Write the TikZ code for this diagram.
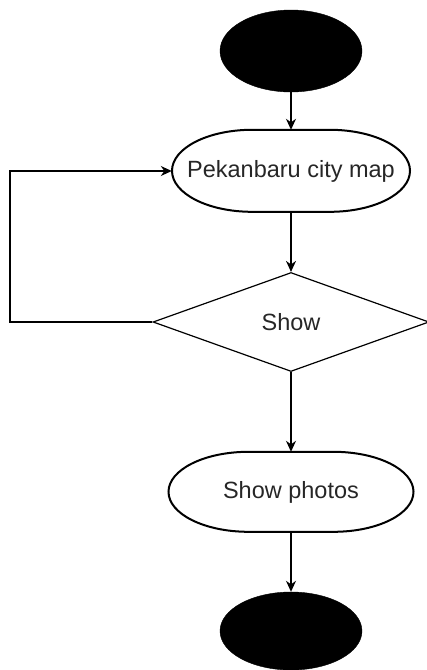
\documentclass[tikz,border=0pt]{standalone}
\usepackage{fontspec}
\setmainfont{Liberation Sans}
\usetikzlibrary{shapes.geometric,arrows.meta}
\begin{document}
\begin{tikzpicture}[x=1pt,y=1pt,
  term/.style={ellipse,fill=black,draw=black,minimum width=142pt,minimum height=82pt,inner sep=0pt},
  stadium/.style={rectangle,minimum width=238pt,minimum height=82pt,inner sep=0pt,font=\fontsize{23.5}{26}\selectfont,text=black!85},
  outline/.style={draw=black,line width=2pt},
  decision/.style={diamond,draw=black,line width=1.2pt,minimum width=276pt,minimum height=99pt,inner sep=0pt,aspect=2.78,font=\fontsize{23.5}{26}\selectfont,text=black!85},
  conn/.style={draw=black,line width=1.4pt,-{Stealth[length=11pt,width=10pt]}}]
\useasboundingbox (0,0) rectangle (427,-670);
\node[term] (start) at (291,-51) {};
\node[stadium] (map) at (291,-171) {Pekanbaru city map};
\node[decision] (dec) at (291,-322) {Show};
\node[stadium,minimum width=245pt,minimum height=80pt] (photos) at (291,-492) {Show photos};
\node[term,minimum height=78pt] (end) at (291,-631) {};
% elliptical-ended outlines
\draw[outline] (map.north) ++(-39,0) -- ++(78,0)
  arc[start angle=90,end angle=-90,x radius=80,y radius=41] -- ++(-78,0)
  arc[start angle=270,end angle=90,x radius=80,y radius=41] -- cycle;
\draw[outline] (photos.north) ++(-42.5,0) -- ++(85,0)
  arc[start angle=90,end angle=-90,x radius=80,y radius=40] -- ++(-85,0)
  arc[start angle=270,end angle=90,x radius=80,y radius=40] -- cycle;
\coordinate (lp) at (10,-322);
\draw[conn] (start) -- (map);
\draw[conn] (map) -- (dec);
\draw[conn] (dec) -- (photos);
\draw[conn] (photos) -- (end);
\draw[conn] (dec.west) -- (lp) |- (map.west);
\end{tikzpicture}
\end{document}
